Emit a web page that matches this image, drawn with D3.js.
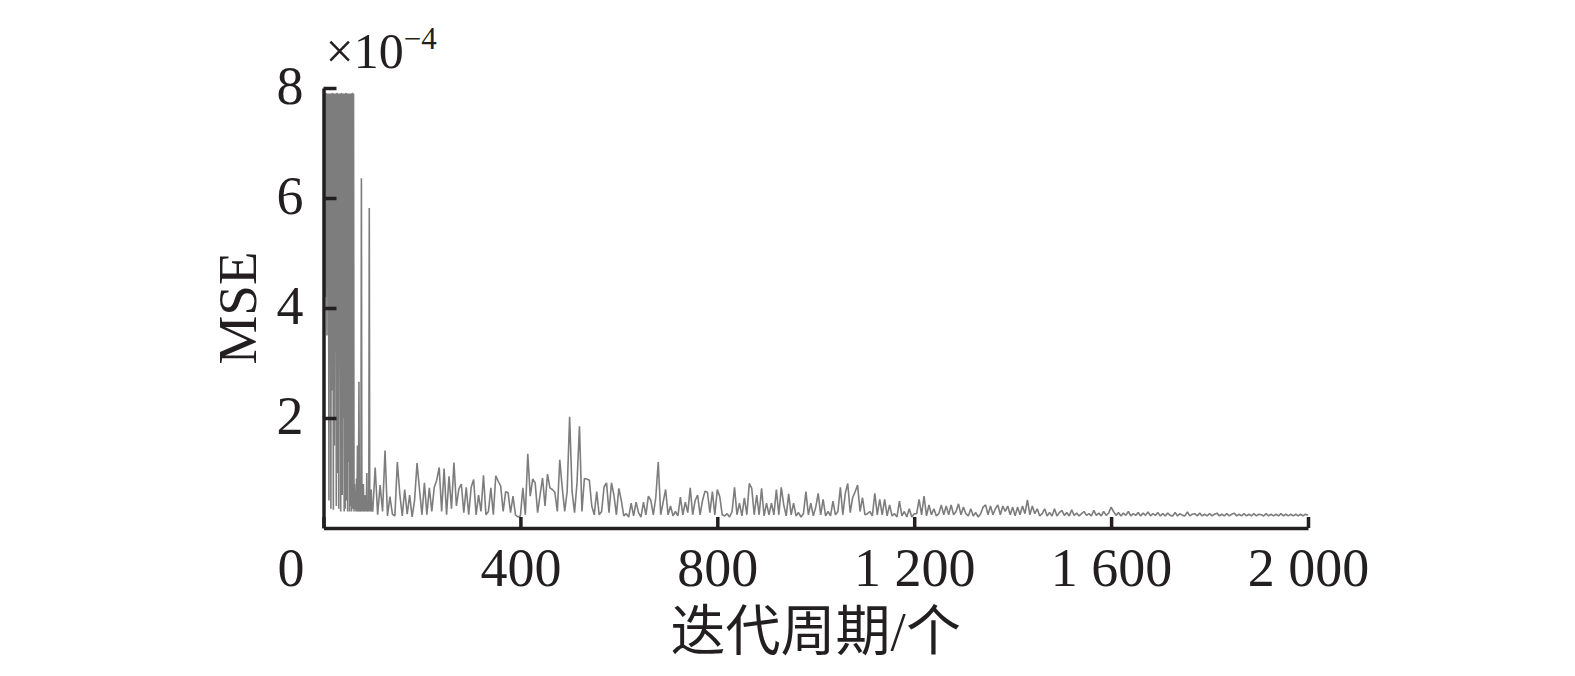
<!DOCTYPE html>
<html>
<head>
<meta charset="utf-8">
<script src="https://cdn.jsdelivr.net/npm/d3@7"></script>
<style>
  body { margin: 0; background: #fff; }
  svg { display: block; }
  .axis path, .axis line { stroke: #231f20; stroke-width: 3.5; }
  .axis text { font-family: "Liberation Serif", "Times New Roman", serif; font-size: 54px; fill: #231f20; }
</style>
</head>
<body>
<div id="chart"></div>
<script>
// mse (units of 1e-4)
// epochs 1..100, one value per epoch (the dense part at the start)
var mseEarly = [
  7.9, 7.0, 7.9, 4.2, 7.9, 7.9, 3.5, 7.9, 7.0, 7.9,
  0.5, 7.9, 6.5, 7.9, 0.35, 7.9, 2.5, 7.9, 7.9, 0.33,
  7.9, 1.5, 7.9, 3.2, 7.9, 0.4, 7.9, 7.9, 1.0, 7.9,
  0.35, 7.9, 4.3, 7.9, 0.3, 7.9, 7.9, 0.6, 7.9, 2.0,
  7.9, 0.3, 7.9, 0.35, 7.9, 7.9, 0.5, 7.9, 0.3, 7.9,
  1.2, 7.9, 0.3, 7.9, 0.4, 7.9, 0.3, 7.9, 7.9, 0.35,
  7.9, 0.3, 0.8, 0.35, 0.5, 0.3, 0.9, 0.3, 1.5, 0.35,
  0.3, 2.66, 0.3, 0.6, 0.3, 0.35, 6.36, 0.3, 0.5, 0.3,
  0.8, 0.3, 0.35, 0.6, 0.3, 0.45, 0.3, 1.0, 0.3, 0.35,
  0.5, 0.3, 5.82, 0.3, 0.4, 0.3, 0.7, 0.3, 0.35, 0.3
];
// epochs 105..2000, one value every 5 epochs
var epochStep = 5;
var mse = [
  1.1, 0.24, 0.78, 0.3, 1.41, 0.22, 0.57, 0.25, 0.22, 1.2, 0.62, 0.22, 0.7, 0.25, 0.6, 0.2, 0.5, 1.18, 0.7, 0.24,
  0.82, 0.24, 0.73, 0.3, 0.74, 0.87, 1.1, 0.3, 1.08, 0.24, 0.94, 0.35, 1.19, 0.4, 0.71, 0.8, 0.28, 0.74, 0.24, 0.74,
  0.88, 0.24, 0.6, 0.3, 0.96, 0.24, 0.3, 0.73, 0.24, 0.95, 0.85, 0.76, 0.3, 0.66, 0.64, 0.28, 0.58, 0.24, 0.2, 0.22,
  0.73, 0.24, 1.35, 0.58, 0.89, 0.82, 0.28, 0.6, 0.91, 0.4, 0.98, 0.73, 0.7, 0.65, 0.3, 1.24, 0.73, 0.3, 0.67, 2.02,
  0.66, 0.28, 0.82, 1.85, 0.3, 0.9, 0.89, 0.87, 0.4, 0.24, 0.66, 0.24, 0.3, 0.75, 0.82, 0.28, 0.82, 0.6, 0.24, 0.72,
  0.5, 0.22, 0.26, 0.2, 0.45, 0.22, 0.47, 0.28, 0.2, 0.47, 0.24, 0.58, 0.5, 0.24, 0.55, 1.2, 0.24, 0.47, 0.7, 0.24,
  0.4, 0.22, 0.3, 0.22, 0.56, 0.24, 0.47, 0.28, 0.73, 0.24, 0.5, 0.6, 0.24, 0.5, 0.67, 0.65, 0.28, 0.66, 0.24, 0.7,
  0.57, 0.24, 0.22, 0.26, 0.2, 0.3, 0.74, 0.24, 0.45, 0.22, 0.55, 0.24, 0.81, 0.72, 0.24, 0.6, 0.24, 0.72, 0.22, 0.45,
  0.24, 0.45, 0.24, 0.7, 0.24, 0.74, 0.42, 0.22, 0.62, 0.24, 0.45, 0.22, 0.28, 0.2, 0.26, 0.66, 0.24, 0.45, 0.22, 0.38,
  0.63, 0.24, 0.52, 0.22, 0.3, 0.22, 0.49, 0.24, 0.3, 0.74, 0.24, 0.63, 0.81, 0.28, 0.55, 0.66, 0.78, 0.3, 0.55, 0.24,
  0.26, 0.3, 0.22, 0.63, 0.24, 0.52, 0.24, 0.52, 0.22, 0.42, 0.22, 0.26, 0.2, 0.49, 0.22, 0.3, 0.2, 0.35, 0.2, 0.26,
  0.26, 0.52, 0.24, 0.58, 0.22, 0.42, 0.24, 0.35, 0.22, 0.26, 0.42, 0.24, 0.4, 0.24, 0.42, 0.24, 0.3, 0.44, 0.24, 0.38,
  0.26, 0.22, 0.35, 0.22, 0.28, 0.2, 0.26, 0.38, 0.42, 0.24, 0.4, 0.24, 0.35, 0.42, 0.24, 0.4, 0.3, 0.4, 0.24, 0.38,
  0.22, 0.38, 0.24, 0.4, 0.26, 0.51, 0.24, 0.4, 0.26, 0.35, 0.22, 0.26, 0.35, 0.22, 0.28, 0.22, 0.35, 0.22, 0.28, 0.32,
  0.23, 0.28, 0.22, 0.33, 0.23, 0.27, 0.22, 0.26, 0.3, 0.23, 0.26, 0.22, 0.32, 0.23, 0.27, 0.22, 0.3, 0.23, 0.27, 0.38,
  0.3, 0.23, 0.28, 0.22, 0.27, 0.23, 0.3, 0.22, 0.26, 0.23, 0.28, 0.22, 0.27, 0.23, 0.29, 0.22, 0.26, 0.23, 0.28, 0.22,
  0.26, 0.22, 0.27, 0.23, 0.22, 0.28, 0.22, 0.26, 0.23, 0.22, 0.29, 0.22, 0.25, 0.26, 0.22, 0.27, 0.22, 0.25, 0.22, 0.26,
  0.22, 0.25, 0.27, 0.22, 0.25, 0.22, 0.26, 0.22, 0.25, 0.27, 0.22, 0.25, 0.22, 0.26, 0.22, 0.25, 0.22, 0.26, 0.22, 0.25,
  0.24, 0.22, 0.26, 0.22, 0.25, 0.22, 0.25, 0.22, 0.26, 0.22, 0.25, 0.22, 0.25, 0.22, 0.25, 0.22, 0.25, 0.22, 0.25, 0.23
];
var xTicks = [0, 400, 800, 1200, 1600, 2000];
var yTicks = [2, 4, 6, 8];
var xLabel = "迭代周期/个";
var yLabel = "MSE";

var width = 1575, height = 676;
var mLeft = 323.5, mRight = 1308, mTop = 88, mBottom = 528;

// pair values with their epoch
var series = mseEarly.map(function (v, i) { return { epoch: i + 1, v: v }; })
    .concat(mse.map(function (v, i) { return { epoch: mseEarly.length + (i + 1) * epochStep, v: v }; }));

var svg = d3.select("#chart")
    .append("svg")
    .attr("width", width)
    .attr("height", height);

var xScale = d3.scaleLinear()
    .domain([0, 2000])
    .range([mLeft, mRight]);

var yScale = d3.scaleLinear()
    .domain([0, 8])
    .range([mBottom, mTop]);

// the curve
var line = d3.line()
    .x(function (d) { return xScale(d.epoch); })
    .y(function (d) { return yScale(d.v); });

svg.append("path")
    .datum(series)
    .attr("fill", "none")
    .attr("stroke", "#5c5c5c")
    .attr("stroke-opacity", 0.8)
    .attr("stroke-width", 1.6)
    .attr("stroke-linejoin", "bevel")
    .attr("d", line);

//add x axis (ticks inside)
var fmt = d3.format(",");
var gx = svg.append("g")
    .attr("class", "axis")
    .attr("transform", "translate(0," + mBottom + ")")
    .call(d3.axisBottom(xScale)
        .tickValues(xTicks)
        .tickSize(-11)
        .tickSizeOuter(0)
        .tickPadding(20)
        .tickFormat(function (d) { return fmt(d).replace(/,/g, " "); }));
gx.selectAll(".tick text")
    .attr("dx", function (d) { return d === 0 ? -33 : 0; });

//add y axis
var gy = svg.append("g")
    .attr("class", "axis")
    .attr("transform", "translate(" + mLeft + ",0)")
    .call(d3.axisLeft(yScale)
        .tickValues(yTicks)
        .tickSize(-13)
        .tickSizeOuter(0)
        .tickPadding(20));
gy.selectAll(".tick text").attr("dy", "0.28em");

// exponent above the y axis
var ex = svg.append("text")
    .attr("x", mLeft + 2)
    .attr("y", 68)
    .attr("font-family", "Liberation Serif, serif")
    .attr("font-size", 50)
    .attr("fill", "#231f20");
ex.append("tspan").text("×10");
ex.append("tspan")
    .attr("font-size", 31)
    .attr("dy", -19)
    .text("−4");

//axis labels
svg.append("text")
    .attr("transform", "translate(256," + ((mTop + mBottom) / 2) + ") rotate(-90)")
    .attr("text-anchor", "middle")
    .attr("font-family", "Liberation Serif, serif")
    .attr("font-size", 55)
    .attr("fill", "#231f20")
    .text(yLabel);

svg.append("text")
    .attr("x", (mLeft + mRight) / 2)
    .attr("y", 650)
    .attr("text-anchor", "middle")
    .attr("font-family", "Liberation Serif, Noto Sans CJK SC, serif")
    .attr("font-size", 55)
    .attr("fill", "#231f20")
    .text(xLabel);
</script>
</body>
</html>
